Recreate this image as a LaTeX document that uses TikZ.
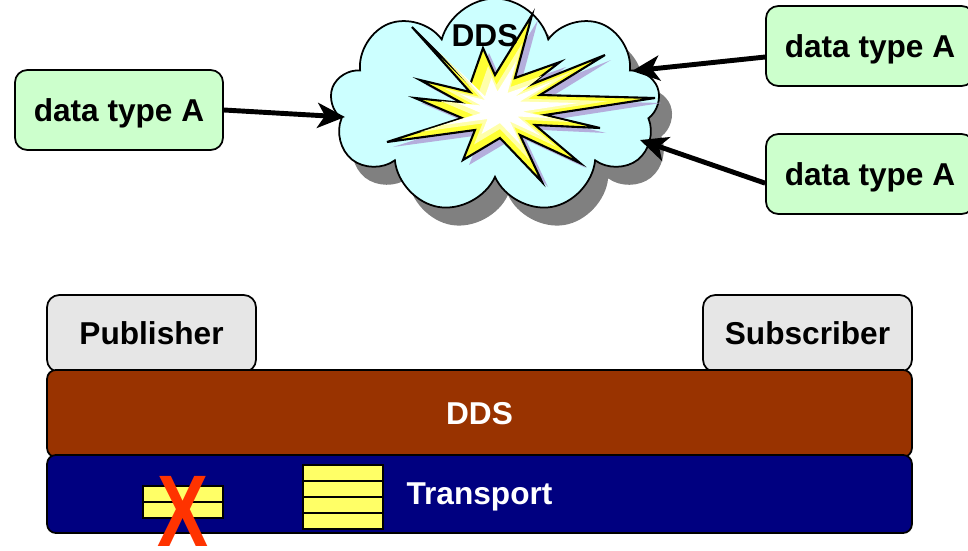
\documentclass[tikz,border=0pt]{standalone}
\usepackage{fontspec}
\setmainfont{Liberation Sans}
\usetikzlibrary{shapes.symbols,arrows.meta}

\definecolor{boxgreen}{HTML}{CCFFCC}
\definecolor{rolegray}{HTML}{E6E6E6}
\definecolor{cloudblue}{HTML}{CCFFFF}
\definecolor{cloudshadow}{HTML}{808080}
\definecolor{burstyellow}{HTML}{FFFF33}
\definecolor{burstlight}{HTML}{FFFFAA}
\definecolor{burstshadow}{HTML}{B4AEDC}
\definecolor{ddsbrown}{HTML}{993300}
\definecolor{navy}{HTML}{000080}
\definecolor{stackyellow}{HTML}{FFFF66}
\definecolor{xred}{HTML}{FF3300}

\tikzset{
  label font/.style={font=\bfseries\fontsize{18}{20}\selectfont, text depth=0pt},
  datatype/.style={draw, line width=1pt, rounded corners=7pt, fill=boxgreen,
    minimum width=4.16cm, minimum height=1.6cm, label font},
  role/.style={draw, line width=1pt, rounded corners=7pt, fill=rolegray,
    minimum width=4.18cm, minimum height=1.54cm, label font},
  layer/.style={draw, line width=1pt, rounded corners=5pt, minimum width=17.3cm,
    text=white, label font},
  feed/.style={line width=2.8pt, -{Stealth[length=0.55cm,width=0.5cm,inset=0.15cm]}},
  cloudshape/.style={cloud, cloud puffs=9, aspect=1.5, minimum width=6.6cm,
    minimum height=4.3cm, line width=1pt},
  stackcell/.style={draw, line width=1pt, fill=stackyellow},
}

\begin{document}
\begin{tikzpicture}[x=0.02cm, y=-0.02cm]
  % Cloud
  \node[cloudshape, fill=cloudshadow] (cloud_shadow) at (508,124) {};
  \node[cloudshape, draw, fill=cloudblue] (cloud) at (495,106) {};

  % Starburst
  \def\burst{(412,27) -- (470,85) -- (483,48) -- (495,75) -- (532,15) -- (515,78)
    -- (560,62) -- (530,85) -- (605,55) -- (540,95) -- (655,98) -- (545,115)
    -- (600,128) -- (535,125) -- (580,163) -- (520,135) -- (542,182) -- (500,138)
    -- (463,160) -- (475,130) -- (387,142) -- (462,118) -- (415,98) -- (462,103)
    -- (420,80) -- (470,92) -- cycle}
  \fill[burstshadow, shift={(6,5)}] \burst;
  \filldraw[fill=burstyellow, line width=1.2pt, line join=miter] \burst;
  \fill[burstlight, shift={(500,108)}, scale=0.7, shift={(-500,-108)}] \burst;
  \fill[white, shift={(500,108)}, scale=0.5, shift={(-500,-108)}] \burst;
  \node[label font] (cloud_label) at (485,35) {DDS};

  % Nodes
  \node[datatype] (pub_data) at (119,110) {data type A};
  \node[datatype] (sub_data1) at (870,46) {data type A};
  \node[datatype] (sub_data2) at (870,174) {data type A};
  \coordinate (in_left) at (345,117);
  \coordinate (in_top) at (632,71);
  \coordinate (in_bottom) at (640,140);

  % Edges
  \draw[feed] (pub_data.east) -- (in_left);
  \draw[feed] (sub_data1.186) -- (in_top);
  \draw[feed] (sub_data2.185) -- (in_bottom);

  % Layers
  \node[role] (publisher) at (151.5,333.5) {Publisher};
  \node[role] (subscriber) at (807.5,333.5) {Subscriber};
  \node[layer, fill=ddsbrown, minimum height=1.74cm] (dds) at (479.5,413.5) {DDS};
  \node[layer, fill=navy, minimum height=1.56cm] (transport) at (479.5,494) {Transport};

  % Message stacks
  \filldraw[stackcell] (143,486) rectangle (223,518);
  \draw[line width=1pt] (143,502) -- (223,502);
  \filldraw[stackcell] (303,465) rectangle (383,529);
  \foreach \y in {481,497,513}
    \draw[line width=1pt] (303,\y) -- (383,\y);
  \node[text=xred, font=\bfseries\fontsize{58}{58}\selectfont, inner sep=0pt] (lost) at (183,511) {\scalebox{0.75}[1]{X}};

  \pgfresetboundingbox
  \useasboundingbox (0,0) rectangle (968,551);
\end{tikzpicture}
\end{document}
